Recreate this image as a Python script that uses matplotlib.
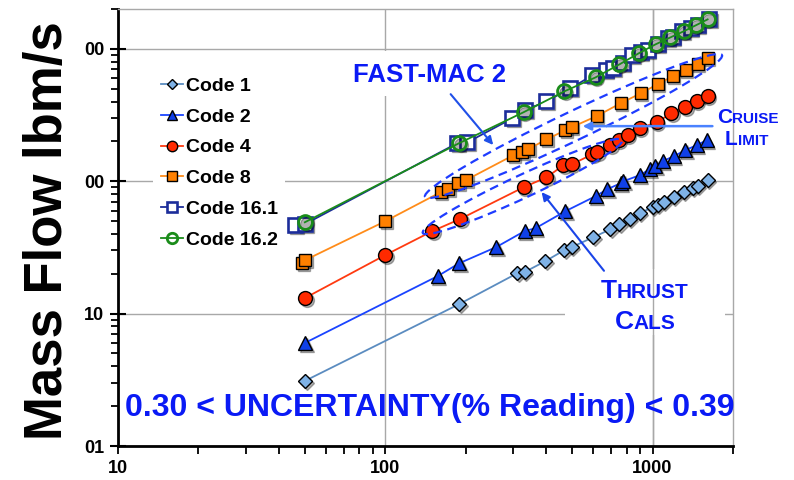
import matplotlib
matplotlib.use("Agg")
import matplotlib.pyplot as plt
from matplotlib import transforms
from matplotlib.patches import Ellipse, Rectangle
from matplotlib.ticker import FixedLocator, LogLocator, NullFormatter

plt.rcParams['font.family'] = ['Liberation Sans', 'DejaVu Sans']
plt.rcParams['font.weight'] = 'bold'

# values
code1_x = [50, 189, 312, 332, 397, 468, 498, 601, 696, 752, 820, 894, 1000, 1044, 1099, 1199, 1306, 1412, 1474, 1607]
code1_y = [3.1, 11.8, 20.2, 20.6, 24.9, 30.2, 31.8, 37.8, 43.4, 47.4, 51.7, 57.3, 63.7, 65.9, 69.5, 75.8, 82.6, 88.5, 91.7, 101.8]

code2_x = [50, 157, 189, 260, 332, 365, 472, 612, 678, 759, 778, 894, 975, 1023, 1090, 1199, 1319, 1462, 1592]
code2_y = [6.0, 19.2, 24.0, 31.8, 42.0, 44.2, 59.4, 77.1, 87.1, 96.6, 100, 111, 123, 130, 142, 154, 171, 187, 204]

code4_x = [50, 100, 150, 190, 329, 401, 464, 498, 596, 622, 696, 746, 806, 894, 1035, 1177, 1319, 1462, 1607]
code4_y = [13.1, 27.7, 42.0, 51.7, 90, 107, 132, 134, 160, 166, 187, 204, 222, 251, 279, 326, 362, 402, 438]

code8_x = [48.9, 50, 100, 161, 172, 187, 200, 301, 326, 343, 401, 472, 498, 617, 759, 902, 1044, 1188, 1330, 1474, 1607]
code8_y = [24.0, 25.3, 49.9, 82.6, 87.1, 96.6, 101.8, 157, 166, 175, 207, 243, 256, 310, 388, 461, 540, 620, 689, 764, 848]

code161_x = [46, 50, 186, 203, 299, 334, 401, 493, 596, 667, 714, 773, 841, 902, 958, 1044, 1138, 1188, 1294, 1387, 1474, 1622]
code161_y = [46.6, 47.4, 194, 197, 299, 344, 402, 504, 631, 689, 713, 778, 893, 941, 975, 1082, 1200, 1222, 1356, 1428, 1504, 1670]

code162_x = [50, 189, 329, 468, 612, 752, 887, 1026, 1167, 1306, 1449, 1607]
code162_y = [49, 194, 332, 478, 609, 764, 925, 1082, 1222, 1356, 1504, 1670]

labels = ['Code 1', 'Code 2', 'Code 4', 'Code 8', 'Code 16.1', 'Code 16.2']
y_tick_values = [1, 10, 100, 1000]
y_tick_labels = ['01', '10', '00', '00']
x_tick_values = [10, 100, 1000]
x_tick_labels = ['10', '100', '1000']

BLUE = '#0a1af5'

styles = [
    dict(color='#5b8cc0', marker='D', ms=7.4, mfc='#7fb2e6', mec='black', mew=1.0),
    dict(color='#1a44ff', marker='^', ms=10.0, mfc='#1040e8', mec='black', mew=1.0),
    dict(color='#ff3a10', marker='o', ms=10.0, mfc='#ff2a00', mec='black', mew=1.0),
    dict(color='#ff8c1a', marker='s', ms=9.0, mfc='#ff8000', mec='black', mew=1.0),
    dict(color='#1c2d9a', marker='s', ms=9.8, mfc='white', mec='#1c2d9a', mew=1.9),
    dict(color='#1a8c1a', marker='o', ms=10.0, mfc='none', mec='#1a8c1a', mew=2.0),
]
data = [(code1_x, code1_y), (code2_x, code2_y), (code4_x, code4_y),
        (code8_x, code8_y), (code161_x, code161_y), (code162_x, code162_y)]

fig = plt.figure(figsize=(7.94, 4.8), dpi=100)
ax = fig.add_axes([0.1486, 0.0708, 0.7746, 0.9104])
ax.set_xscale('log')
ax.set_yscale('log')
ax.set_xlim(10, 2000)
ax.set_ylim(1, 2000)

shadow = transforms.offset_copy(ax.transData, fig=fig, x=1.3, y=-1.3, units='points')
for i, ((xs, ys), st, lab) in enumerate(zip(data, styles, labels)):
    z = 3 + i * 0.1
    ax.plot(xs, ys, ls='none', marker=st['marker'], ms=st['ms'], mfc='black', mec='black',
            alpha=0.3, transform=shadow, zorder=z - 0.05)
    ax.plot(xs, ys, lw=1.3, label=lab, zorder=z, **st)

# grid and frame
ax.set_axisbelow(True)
ax.grid(True, which='major', color='#a8a8a8', lw=1.0)
for s in ['top', 'right']:
    ax.spines[s].set_color('#a8a8a8')
    ax.spines[s].set_linewidth(1.0)
for s in ['left', 'bottom']:
    ax.spines[s].set_color('black')
    ax.spines[s].set_linewidth(2.0)

ax.xaxis.set_major_locator(FixedLocator(x_tick_values))
ax.set_xticklabels(x_tick_labels)
ax.xaxis.set_minor_locator(LogLocator(base=10, subs=range(2, 10)))
ax.xaxis.set_minor_formatter(NullFormatter())
ax.yaxis.set_major_locator(FixedLocator(y_tick_values))
ax.set_yticklabels(y_tick_labels)
ax.yaxis.set_minor_locator(LogLocator(base=10, subs=range(2, 10)))
ax.yaxis.set_minor_formatter(NullFormatter())
ax.tick_params(axis='x', which='both', direction='out', length=6, width=1.3, labelsize=13, pad=4)
ax.tick_params(axis='y', which='major', direction='inout', length=12, width=1.5, labelsize=13, pad=4)
ax.tick_params(axis='y', which='minor', direction='out', length=5, width=1.3)

ax.set_ylabel('Mass Flow lbm/s', fontsize=38, fontweight='bold')
ax.yaxis.label.set_verticalalignment('baseline')
ax.yaxis.set_label_coords(-0.091, 0.494)

# white boxes behind the labels
ax.add_patch(Rectangle((0.360, 0.800), 0.296, 0.105, transform=ax.transAxes,
                       facecolor='white', edgecolor='none', zorder=0.8))
ax.add_patch(Rectangle((0.727, 0.255), 0.260, 0.150, transform=ax.transAxes,
                       facecolor='white', edgecolor='none', zorder=0.8))
ax.axvline(1000, color='#a8a8a8', lw=1.0, zorder=0.9)

# dashed ellipses around the FAST-MAC 2 points
for cx, cy, w, h, ang in [(5.735, 3.54, 3.29, 0.29, 25.5), (5.225, 2.935, 2.20, 0.23, 25.0)]:
    ax.add_patch(Ellipse((cx, cy), w, h, angle=ang, transform=fig.dpi_scale_trans,
                         fill=False, edgecolor='#1e3cff', lw=1.6, ls=(0, (4, 2.5)),
                         zorder=6, clip_on=False))

ax.text(0.382, 0.833, 'FAST-MAC 2', transform=ax.transAxes, fontsize=18.5,
        color=BLUE, ha='left', va='baseline', zorder=7)
ax.annotate('', xy=(0.613, 0.684), xytext=(0.538, 0.810), xycoords='axes fraction',
            arrowprops=dict(arrowstyle='-|>', color='#2050e8', lw=1.5, mutation_scale=12),
            zorder=7)

def small_caps(big, rest, x, y, big_size, small_size):
    t = ax.text(x, y, big, transform=ax.transAxes, fontsize=big_size, color=BLUE,
                ha='left', va='baseline', zorder=7, clip_on=False)
    ax.annotate(rest, xy=(1.0, y), xycoords=(t, 'axes fraction'), fontsize=small_size,
                color=BLUE, ha='left', va='baseline', zorder=7, annotation_clip=False)

small_caps('C', 'RUISE', 0.974, 0.739, 15, 11)
small_caps('L', 'IMIT', 0.987, 0.689, 15, 11)
ax.annotate('', xy=(0.751, 0.732), xytext=(0.971, 0.732), xycoords='axes fraction',
            arrowprops=dict(arrowstyle='-|>', color='#4a82ff', lw=1.8, mutation_scale=12),
            zorder=7)

small_caps('T', 'HRUST', 0.785, 0.339, 19, 15)
small_caps('C', 'ALS', 0.808, 0.268, 19, 15)
ax.annotate('', xy=(0.686, 0.586), xytext=(0.793, 0.396), xycoords='axes fraction',
            arrowprops=dict(arrowstyle='-|>', color='#1a44e8', lw=1.5, mutation_scale=12),
            zorder=7)

ax.text(0.0114, 0.069, '0.30 < UNCERTAINTY(% Reading) < 0.39', transform=ax.transAxes,
        fontsize=23, color=BLUE, ha='left', va='baseline', zorder=7)

leg = ax.legend(loc='upper left', bbox_to_anchor=(0.057, 0.862), fontsize=14,
                frameon=True, fancybox=False, edgecolor='none', facecolor='white',
                framealpha=1.0, handlelength=1.15, handletextpad=0.12, labelspacing=0.68,
                borderaxespad=0.0, borderpad=0.4, markerscale=0.75)
for t in leg.get_texts():
    t.set_fontweight('bold')

fig.savefig('out.png', dpi=100)
